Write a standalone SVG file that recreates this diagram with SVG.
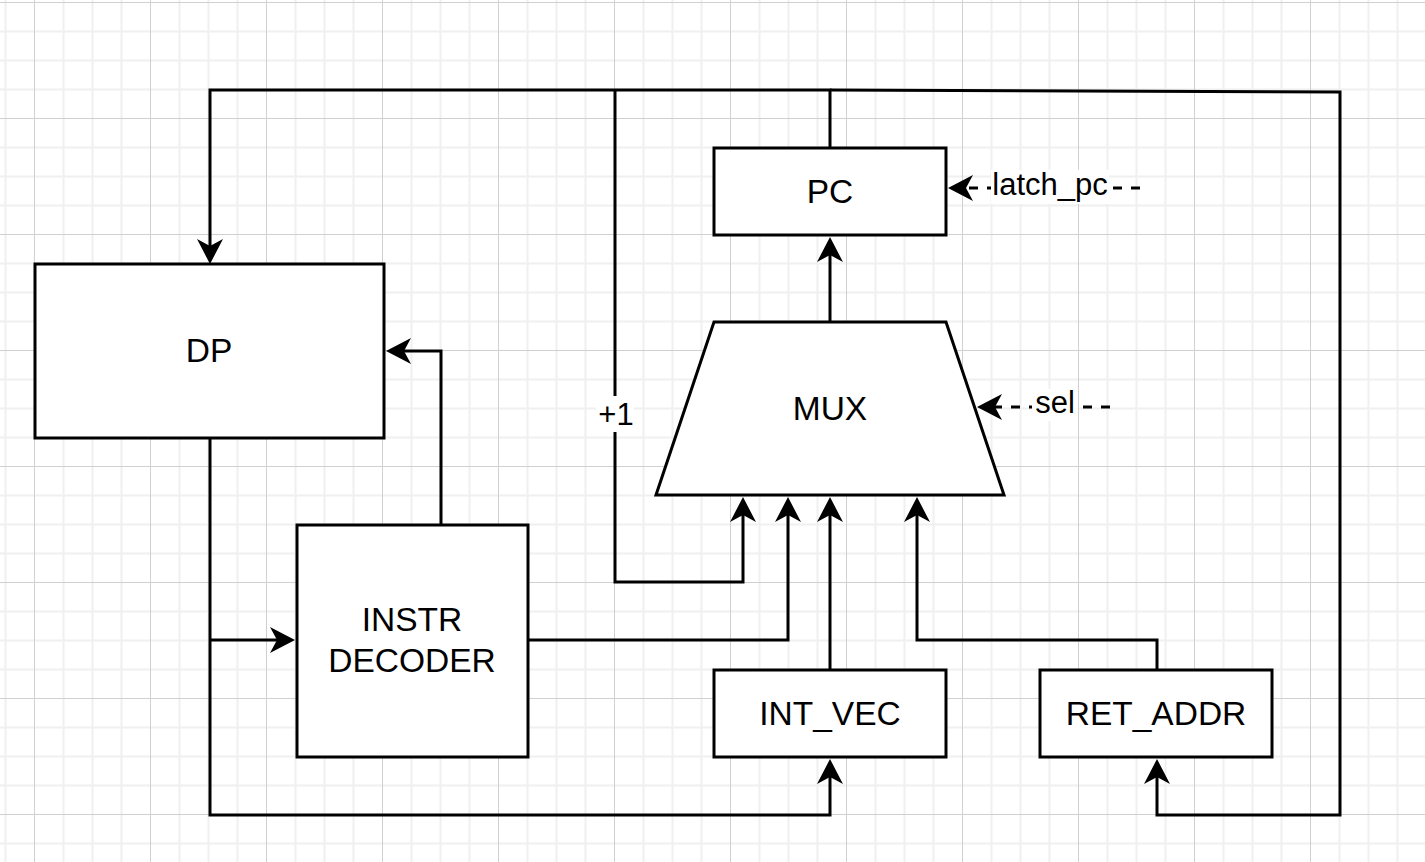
<svg xmlns="http://www.w3.org/2000/svg" width="1425" height="862" viewBox="0 0 1425 862">
<style>
.box{fill:#fff;stroke:#000;stroke-width:3}
.wire{fill:none;stroke:#000;stroke-width:3;stroke-linejoin:miter}
.dash{fill:none;stroke:#000;stroke-width:3;stroke-dasharray:9 9}
.t{font-family:"Liberation Sans",Arial,sans-serif;font-size:33.5px;fill:#000;text-anchor:middle}
.lbl{font-family:"Liberation Sans",Arial,sans-serif;font-size:31px;fill:#000;text-anchor:middle}
</style>
<defs>
<pattern id="grid" patternUnits="userSpaceOnUse" x="34" y="2" width="116" height="116">
<path d="M29.5,0V116M58.5,0V116M87.5,0V116M0,29.5H116M0,58.5H116M0,87.5H116" stroke="#f0f0f0" stroke-width="2" fill="none"/>
<path d="M0.5,0V116M0,0.5H116" stroke="#d0d0d0" stroke-width="1" fill="none"/>
</pattern>
<marker id="arr" markerUnits="userSpaceOnUse" markerWidth="30" markerHeight="30" refX="7" refY="13" orient="auto" overflow="visible">
<path d="M0,0 L25,13 L0,26 L7,13 Z" fill="#000"/>
</marker>
</defs>
<rect width="1425" height="862" fill="#fff"/>
<rect width="1425" height="862" fill="url(#grid)"/>

<g id="connectors">
<path class="wire" d="M830,148 V90 H210 V246" marker-end="url(#arr)"/>
<path class="wire" d="M615,90 V582 H743 V515" marker-end="url(#arr)"/>
<path class="wire" d="M830,90 L1340,92 V815 H1157 V777" marker-end="url(#arr)"/>
<path class="wire" d="M210,438 V815 H830 V777" marker-end="url(#arr)"/>
<path class="wire" d="M210,640 H277" marker-end="url(#arr)"/>
<path class="wire" d="M441,525 V351 H404" marker-end="url(#arr)"/>
<path class="wire" d="M528,640 H788 V515" marker-end="url(#arr)"/>
<path class="wire" d="M830,670 V515" marker-end="url(#arr)"/>
<path class="wire" d="M1157,670 V640 H917 V515" marker-end="url(#arr)"/>
<path class="wire" d="M830,322 V255" marker-end="url(#arr)"/>
<path class="dash" d="M1140,188 H966" marker-end="url(#arr)"/>
<path class="dash" d="M1110,407 H995" marker-end="url(#arr)"/>
<rect x="596" y="396" width="38" height="36" fill="#fff"/>
<text class="lbl" x="616" y="425">+1</text>
<rect x="991" y="170" width="118" height="34" fill="#fff"/>
<text class="lbl" x="1050" y="195">latch_pc</text>
<rect x="1032" y="389" width="46" height="32" fill="#fff"/>
<text class="lbl" x="1055" y="413">sel</text>
</g>

<g id="DP">
<rect class="box" x="35" y="264" width="349" height="174"/>
<text class="t" x="209" y="362">DP</text>
</g>
<g id="INSTR_DECODER">
<rect class="box" x="297" y="525" width="231" height="232"/>
<text class="t" x="412" y="631">INSTR</text>
<text class="t" x="412" y="672">DECODER</text>
</g>
<g id="PC">
<rect class="box" x="714" y="148" width="232" height="87"/>
<text class="t" x="830" y="203">PC</text>
</g>
<g id="MUX">
<polygon class="box" points="714,322 946,322 1004,495 656,495"/>
<text class="t" x="830" y="420">MUX</text>
</g>
<g id="INT_VEC">
<rect class="box" x="714" y="670" width="232" height="87"/>
<text class="t" x="830" y="725">INT_VEC</text>
</g>
<g id="RET_ADDR">
<rect class="box" x="1040" y="670" width="232" height="87"/>
<text class="t" x="1156" y="725">RET_ADDR</text>
</g>
</svg>
